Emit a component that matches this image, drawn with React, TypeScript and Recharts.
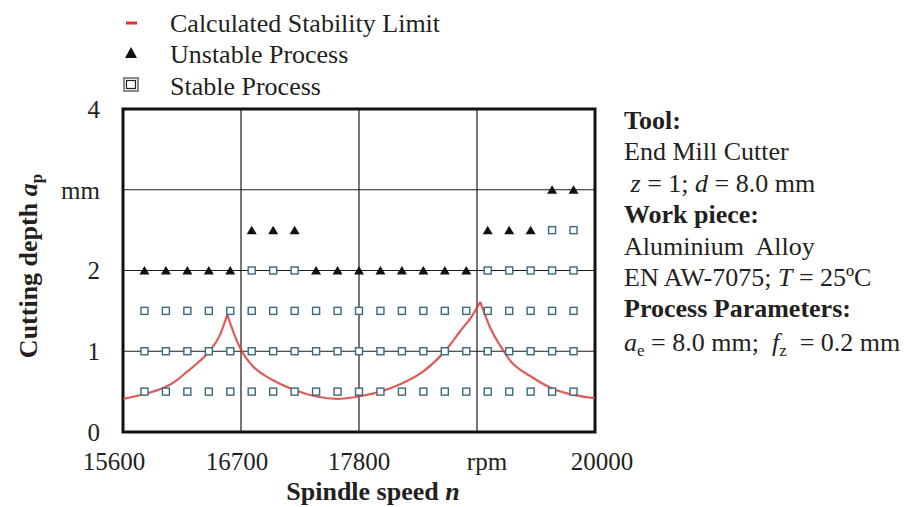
import React from 'react';
import { ComposedChart, Line, Scatter, XAxis, YAxis, CartesianGrid, ReferenceArea } from 'recharts';

// ---- data ----
const xTicks = [15600, 16700, 17800, 18900, 20000];
const yTicks = [0, 1, 2, 3, 4];
const xTickLabels: Record<number, string> = { 18900: 'rpm' };
const yTickLabels: Record<number, string> = { 3: 'mm' };

const stableAt0_5 = [15800, 16000, 16200, 16400, 16600, 16800, 17000, 17200, 17400, 17600, 17800, 18000, 18200, 18400, 18600, 18800, 19000, 19200, 19400, 19600, 19800];
const stableAt1 = [15800, 16000, 16200, 16400, 16600, 16800, 17000, 17200, 17400, 17600, 17800, 18000, 18200, 18400, 18600, 18800, 19000, 19200, 19400, 19600, 19800];
const stableAt1_5 = [15800, 16000, 16200, 16400, 16600, 16800, 17000, 17200, 17400, 17600, 17800, 18000, 18200, 18400, 18600, 18800, 19000, 19200, 19400, 19600, 19800];
const stableAt2 = [16800, 17000, 17200, 19000, 19200, 19400, 19600, 19800];
const stableAt2_5 = [19600, 19800];

const unstableAt2 = [15800, 16000, 16200, 16400, 16600, 17400, 17600, 17800, 18000, 18200, 18400, 18600, 18800];
const unstableAt2_5 = [16800, 17000, 17200, 19000, 19200, 19400];
const unstableAt3 = [19600, 19800];

// calculated stability limit (three lobe segments)
const lobeA_rpm = [15600, 15800, 16000, 16100, 16200, 16300, 16400, 16500, 16572];
const lobeA_ap = [0.41, 0.47, 0.56, 0.64, 0.75, 0.86, 0.99, 1.19, 1.45];
const lobeB_rpm = [16572, 16640, 16700, 16800, 17000, 17200, 17400, 17600, 17800, 18000, 18200, 18400, 18600, 18750, 18850, 18930];
const lobeB_ap = [1.45, 1.2, 1.02, 0.83, 0.64, 0.52, 0.44, 0.41, 0.44, 0.5, 0.6, 0.75, 1.0, 1.26, 1.43, 1.61];
const lobeC_rpm = [18930, 19020, 19150, 19200, 19400, 19600, 19800, 20000];
const lobeC_ap = [1.61, 1.3, 1.0, 0.9, 0.69, 0.54, 0.46, 0.42];

const toPts = (xs: number[], y: number) => xs.map((x) => ({ x, y }));
const zip = (xs: number[], ys: number[]) => xs.map((x, i) => ({ x, y: ys[i] }));

const stablePoints = [
  ...toPts(stableAt0_5, 0.5),
  ...toPts(stableAt1, 1),
  ...toPts(stableAt1_5, 1.5),
  ...toPts(stableAt2, 2),
  ...toPts(stableAt2_5, 2.5),
];
const unstablePoints = [
  ...toPts(unstableAt2, 2),
  ...toPts(unstableAt2_5, 2.5),
  ...toPts(unstableAt3, 3),
];
const lobeA = zip(lobeA_rpm, lobeA_ap);
const lobeB = zip(lobeB_rpm, lobeB_ap);
const lobeC = zip(lobeC_rpm, lobeC_ap);

// ---- styling ----
const FONT = '"Liberation Serif", "Times New Roman", serif';
const TEXT = '#231f20';
const RED = '#d8403a';
const xTickShift: Record<number, number> = { 15600: -9, 16700: -4, 17800: 0, 18900: 10, 20000: 7 };

const SquareShape = (props: any) => {
  const { cx, cy } = props;
  if (cx == null || cy == null) return null;
  return <rect x={cx - 3.5} y={cy - 3.5} width={7} height={7} fill="#ffffff" stroke="#3a687d" strokeWidth={1.4} />;
};
const TriangleShape = (props: any) => {
  const { cx, cy } = props;
  if (cx == null || cy == null) return null;
  return <polygon points={`${cx - 5},${cy + 4} ${cx + 5},${cy + 4} ${cx},${cy - 4.5}`} fill="#111" />;
};

const XTick = (props: any) => {
  const { x, y, payload } = props;
  const v = payload.value;
  const label = xTickLabels[v] ?? String(v);
  return (
    <text x={x + (xTickShift[v] ?? 0)} y={y} dy="0.71em" textAnchor="middle" fontFamily={FONT} fontSize={25} fill={TEXT}>
      {label}
    </text>
  );
};
const YTick = (props: any) => {
  const { x, y, payload } = props;
  const v = payload.value;
  const label = yTickLabels[v] ?? String(v);
  return (
    <text x={x} y={y} dy="0.355em" textAnchor="end" fontFamily={FONT} fontSize={25} fill={TEXT}>
      {label}
    </text>
  );
};

export default function App() {
  const lineH = 31.4;
  const infoX = 624;
  const infoY0 = 129;
  return (
    <div style={{ position: 'absolute', left: 0, top: 0, width: 907, height: 507, background: '#fff', overflow: 'hidden' }}>
      <ComposedChart
        width={907}
        height={507}
        margin={{ top: 109, right: 312, bottom: 35, left: 63 }}
      >
        <CartesianGrid stroke="#1c1c1c" strokeWidth={1.2} />
        <XAxis
          dataKey="x"
          type="number"
          domain={[15600, 20000]}
          ticks={xTicks}
          axisLine={false}
          tickLine={false}
          tickSize={0}
          tickMargin={20}
          height={40}
          tick={<XTick />}
          allowDataOverflow
        />
        <YAxis
          dataKey="y"
          type="number"
          domain={[0, 4]}
          ticks={yTicks}
          axisLine={false}
          tickLine={false}
          tickSize={0}
          tickMargin={23}
          width={60}
          tick={<YTick />}
          allowDataOverflow
        />
        <Line data={lobeA} dataKey="y" type="monotone" stroke={RED} strokeWidth={2.2} strokeOpacity={0.85} dot={false} isAnimationActive={false} />
        <Line data={lobeB} dataKey="y" type="monotone" stroke={RED} strokeWidth={2.2} strokeOpacity={0.85} dot={false} isAnimationActive={false} />
        <Line data={lobeC} dataKey="y" type="monotone" stroke={RED} strokeWidth={2.2} strokeOpacity={0.85} dot={false} isAnimationActive={false} />
        <Scatter data={stablePoints} dataKey="y" shape={SquareShape} isAnimationActive={false} />
        <Scatter data={unstablePoints} dataKey="y" shape={TriangleShape} isAnimationActive={false} />
        <ReferenceArea x1={15600} x2={20000} y1={0} y2={4} fill="none" stroke="#111" strokeWidth={3} />
      </ComposedChart>

      <svg width={907} height={507} style={{ position: 'absolute', left: 0, top: 0, pointerEvents: 'none' }}>
        {/* legend */}
        <rect x={126} y={21.5} width={11} height={3} fill="#e0302a" />
        <polygon points="125,58 137,58 131,47" fill="#111" />
        <rect x={124} y={78} width={14} height={13} fill="#fff" stroke="#8a8a8a" strokeWidth={2} />
        <rect x={126.5} y={80.5} width={9} height={8} fill="#fff" stroke="#222" strokeWidth={1.2} />
        <g fontFamily={FONT} fontSize={26} fill={TEXT}>
          <text x={170} y={31.5}>Calculated Stability Limit</text>
          <text x={170} y={63.3}>Unstable Process</text>
          <text x={170} y={95}>Stable Process</text>
        </g>

        {/* info block */}
        <g fontFamily={FONT} fontSize={26} fill={TEXT}>
          <text x={infoX} y={infoY0} fontWeight="bold">Tool:</text>
          <text x={infoX} y={infoY0 + lineH}>End Mill Cutter</text>
          <text x={infoX} y={infoY0 + 2 * lineH} xmlSpace="preserve">
            {' '}<tspan fontStyle="italic">z</tspan> = 1; <tspan fontStyle="italic">d</tspan> = 8.0 mm
          </text>
          <text x={infoX} y={infoY0 + 3 * lineH} fontWeight="bold">Work piece:</text>
          <text x={infoX} y={infoY0 + 4 * lineH} xmlSpace="preserve">Aluminium  Alloy</text>
          <text x={infoX} y={infoY0 + 5 * lineH}>
            EN AW-7075; <tspan fontStyle="italic">T</tspan> = 25ºC
          </text>
          <text x={infoX} y={infoY0 + 6 * lineH} fontWeight="bold">Process Parameters:</text>
          <text x={infoX} y={infoY0 + 7 * lineH + 2} xmlSpace="preserve">
            <tspan fontStyle="italic">a</tspan>
            <tspan fontSize={17} dy={5}>e</tspan>
            <tspan dy={-5}> = 8.0 mm;  </tspan>
            <tspan fontStyle="italic">f</tspan>
            <tspan fontSize={17} dy={5}>z</tspan>
            <tspan dy={-5}>  = 0.2 mm</tspan>
          </text>
        </g>

        {/* axis titles */}
        <text x={373} y={500} textAnchor="middle" fontFamily={FONT} fontSize={26} fontWeight="bold" fill={TEXT}>
          Spindle speed <tspan fontStyle="italic">n</tspan>
        </text>
        <text
          transform="translate(37, 266) rotate(-90)"
          textAnchor="middle"
          fontFamily={FONT}
          fontSize={26}
          fontWeight="bold"
          fill={TEXT}
        >
          Cutting depth <tspan fontStyle="italic">a</tspan>
          <tspan fontSize={17} dy={5}>p</tspan>
        </text>
      </svg>
    </div>
  );
}
